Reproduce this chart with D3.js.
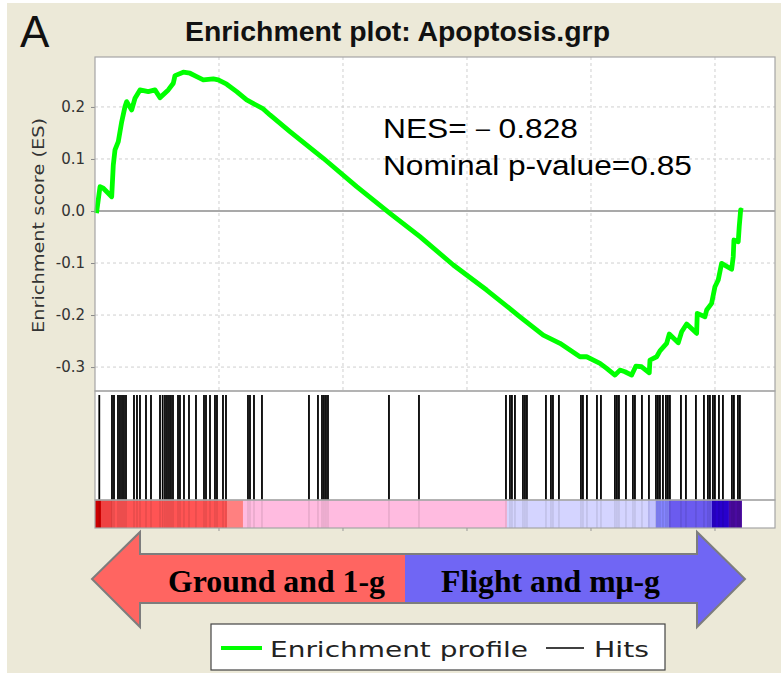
<!DOCTYPE html>
<html><head><meta charset="utf-8">
<script src="https://cdn.jsdelivr.net/npm/d3@7"></script>
<style>html,body{margin:0;padding:0;background:#fff;} svg{display:block;}</style>
</head><body>
<svg id="chart" width="781" height="673"></svg>
<script>
// ---------------- data ----------------
const nGenes = 27420;
const esRank = [60,202,335,673,738,806,939,1077,1210,1278,1480,1613,1814,2149,2419,2621,2955,3157,3226,3560,3830,4101,4367,4770,4971,5310,5713,6116,6786,7056,7862,9205,10552,11894,13104,14447,15793,17136,18075,18749,19555,19825,20362,20632,20966,21168,21370,21640,21813,22043,22350,22378,22648,22781,23051,23156,23519,23656,23858,24260,24285,24595,24664,24865,24998,25131,25268,25672,25736,25764,25938,25978,26035,26116];
const esValue = [-0.004,0.0467,0.0437,0.0275,0.0885,0.1173,0.1333,0.1717,0.2006,0.2102,0.1942,0.2167,0.2327,0.2294,0.2327,0.2179,0.2327,0.2456,0.2602,0.2667,0.2648,0.2583,0.2519,0.2538,0.2519,0.2437,0.2294,0.2135,0.1962,0.1846,0.1525,0.1013,0.0467,-0.0044,-0.0494,-0.1038,-0.1519,-0.2033,-0.2385,-0.2544,-0.2802,-0.2802,-0.2929,-0.3025,-0.3154,-0.3058,-0.309,-0.3154,-0.2981,-0.2994,-0.311,-0.2865,-0.2802,-0.2687,-0.2544,-0.2365,-0.2533,-0.2321,-0.2173,-0.2352,-0.1967,-0.2033,-0.1904,-0.1775,-0.1456,-0.1327,-0.1006,-0.1121,-0.0879,-0.0558,-0.059,-0.0302,0.0019,0.0];
const hitRanks = [173,685,766,927,1008,1089,1169,1250,1572,1693,1814,2056,2258,2621,2730,2822,2903,2984,3064,3145,3347,3427,3588,3790,4072,4395,4476,4637,4838,4919,5161,5282,6169,6250,6411,6733,8628,8991,9153,9233,9314,9395,11854,13064,16572,16733,16813,16934,17257,17338,17418,18184,18386,18467,18708,19596,19676,19837,20241,20402,20966,21047,21128,21410,21692,21773,22055,22337,22620,22700,22781,22902,23023,23103,23184,23628,23829,24232,24555,24716,24797,24918,24998,25160,25321,25684,25764,25926,26006];
const barEnds   = [242,685,5322,5967,16612,22297,22620,23144,24877,25563,26087];
const barColors = ["#cc0000","#ef4242","#ff5454","#ff8080","#ffbbe0","#d4d4ff","#c2c2ff","#8585ff","#6b5bef","#2800cc","#4a0aa0"];
const yTicks = [-0.3,-0.2,-0.1,0.0,0.1,0.2];
const xTicks = [5000,10000,15000,20000,25000];
const titleText = "Enrichment plot: Apoptosis.grp";
const panelLetter = "A";
const yLabel = "Enrichment score (ES)";
const statLines = ["NES=－0.828","Nominal p-value=0.85"];
const arrowLabels = ["Ground and 1-g","Flight and mμ-g"];
const legendLabels = ["Enrichment profile","Hits"];

// ---------------- layout ----------------
const L=95, R=775, T=57, B=391, HB=500, CB=528;
const svg = d3.select("#chart");
const fit = (sel,len)=>sel.attr("textLength",len).attr("lengthAdjust","spacingAndGlyphs");

svg.append("rect").attr("x",7).attr("y",3).attr("width",774).attr("height",670).attr("fill","#ece9d8");

const x = d3.scaleLinear().domain([0,nGenes]).range([L,R]);
const y = d3.scaleLinear().domain([-0.346,0.296]).range([B,T]);

// white panels
svg.append("rect").attr("x",L).attr("y",T).attr("width",R-L).attr("height",CB-T).attr("fill","#fff");

// grid
const g = svg.append("g");
g.selectAll(".hg").data(yTicks.filter(d=>d!==0)).join("line")
  .attr("x1",L).attr("x2",R).attr("y1",d=>y(d)).attr("y2",d=>y(d))
  .attr("stroke","#cfcfcf").attr("stroke-dasharray","3,3");
g.selectAll(".vg").data(xTicks).join("line")
  .attr("x1",d=>x(d)).attr("x2",d=>x(d)).attr("y1",T).attr("y2",B)
  .attr("stroke","#cfcfcf").attr("stroke-dasharray","3,3");
g.append("line").attr("x1",L).attr("x2",R).attr("y1",y(0)).attr("y2",y(0))
  .attr("stroke","#8c8c8c").attr("stroke-width",1.5);

// y axis
const yAxis = d3.axisLeft(y).tickValues(yTicks).tickFormat(d=>d.toFixed(1)).tickSize(4).tickPadding(6);
const ya = svg.append("g").attr("transform",`translate(${L},0)`).call(yAxis);
ya.select(".domain").remove();
ya.selectAll("line").attr("stroke","#888");
ya.selectAll("text").attr("font-family","DejaVu Sans").attr("font-size",15).attr("fill","#333");

// ES curve
const pts = esRank.map((r,i)=>[r,esValue[i]]);
svg.append("path").datum(pts)
  .attr("d",d3.line().x(d=>x(d[0])).y(d=>y(d[1])))
  .attr("fill","none").attr("stroke","#00ff00").attr("stroke-width",4.8).attr("stroke-linejoin","round");

// colour bar
const bands = barEnds.map((e,i)=>({s:i?barEnds[i-1]:0,e,c:barColors[i]}));
svg.selectAll(".band").data(bands).join("rect")
  .attr("x",d=>x(d.s)).attr("width",d=>x(d.e)-x(d.s)).attr("y",HB).attr("height",CB-HB).attr("fill",d=>d.c);

// hits
svg.selectAll(".hit").data(hitRanks).join("line")
  .attr("x1",d=>x(d)).attr("x2",d=>x(d)).attr("y1",395).attr("y2",HB)
  .attr("stroke","#000").attr("stroke-width",1.8);
svg.selectAll(".hitf").data(hitRanks).join("line")
  .attr("x1",d=>x(d)).attr("x2",d=>x(d)).attr("y1",HB).attr("y2",CB)
  .attr("stroke","#000").attr("stroke-width",1.5).attr("stroke-opacity",0.1);

// frames
[[T,B],[B,HB],[HB,CB]].forEach(([a,b])=>{
  svg.append("rect").attr("x",L).attr("y",a).attr("width",R-L).attr("height",b-a)
    .attr("fill","none").attr("stroke","#a5a5a5").attr("stroke-width",1.2);
});
// bottom ticks
svg.selectAll(".bt").data(xTicks).join("line")
  .attr("x1",d=>x(d)).attr("x2",d=>x(d)).attr("y1",CB).attr("y2",CB+3).attr("stroke","#999");

// texts
fit(svg.append("text").attr("x",185).attr("y",41).attr("font-family","Liberation Sans").attr("font-weight","bold")
  .attr("font-size",27).attr("fill","#111").text(titleText),425);
svg.append("text").attr("x",20).attr("y",47).attr("font-family","Liberation Sans").attr("font-size",44)
  .attr("fill","#111").text(panelLetter);
fit(svg.append("text").attr("transform","translate(44,333) rotate(-90)").attr("font-family","DejaVu Sans")
  .attr("font-size",15).attr("fill","#333").text(yLabel),215);
fit(svg.append("text").attr("x",383).attr("y",138).attr("font-family","Liberation Sans").attr("font-size",27)
  .attr("fill","#000").text(statLines[0]),195);
fit(svg.append("text").attr("x",383).attr("y",175).attr("font-family","Liberation Sans").attr("font-size",27)
  .attr("fill","#000").text(statLines[1]),309);

// double arrow
const tipL=92, headL=140, split=405, headR=697, tipR=745, mid=579, bT=554, bB=603, hT=532, hB=627;
const lp = [[split,bT],[headL,bT],[headL,hT],[tipL,mid],[headL,hB],[headL,bB],[split,bB]];
const rp = [[split,bT],[headR,bT],[headR,hT],[tipR,mid],[headR,hB],[headR,bB],[split,bB]];
svg.append("polygon").attr("points",lp.join(" ")).attr("fill","#ff6561");
svg.append("polygon").attr("points",rp.join(" ")).attr("fill","#7066f4");
const outline = [[headL,bT],[headL,hT],[tipL,mid],[headL,hB],[headL,bB],[headR,bB],[headR,hB],[tipR,mid],[headR,hT],[headR,bT]];
svg.append("polygon").attr("points",outline.join(" ")).attr("fill","none").attr("stroke","#7d7d7d").attr("stroke-width",2);
fit(svg.append("text").attr("x",168).attr("y",592).attr("font-family","Liberation Serif").attr("font-weight","bold")
  .attr("font-size",31).attr("fill","#000").text(arrowLabels[0]),217);
fit(svg.append("text").attr("x",441).attr("y",592).attr("font-family","Liberation Serif").attr("font-weight","bold")
  .attr("font-size",31).attr("fill","#000").text(arrowLabels[1]),219);

// legend
svg.append("rect").attr("x",211).attr("y",624).attr("width",454).attr("height",46)
  .attr("fill","#fff").attr("stroke","#444").attr("stroke-width",1.2);
svg.append("line").attr("x1",221).attr("x2",262).attr("y1",648).attr("y2",648).attr("stroke","#00ff00").attr("stroke-width",4);
fit(svg.append("text").attr("x",270).attr("y",657).attr("font-family","DejaVu Sans").attr("font-size",22)
  .attr("fill","#222").text(legendLabels[0]),258);
svg.append("line").attr("x1",546).attr("x2",584).attr("y1",648).attr("y2",648).attr("stroke","#000").attr("stroke-width",1.5);
fit(svg.append("text").attr("x",594).attr("y",657).attr("font-family","DejaVu Sans").attr("font-size",22)
  .attr("fill","#222").text(legendLabels[1]),55);
</script>
</body></html>
